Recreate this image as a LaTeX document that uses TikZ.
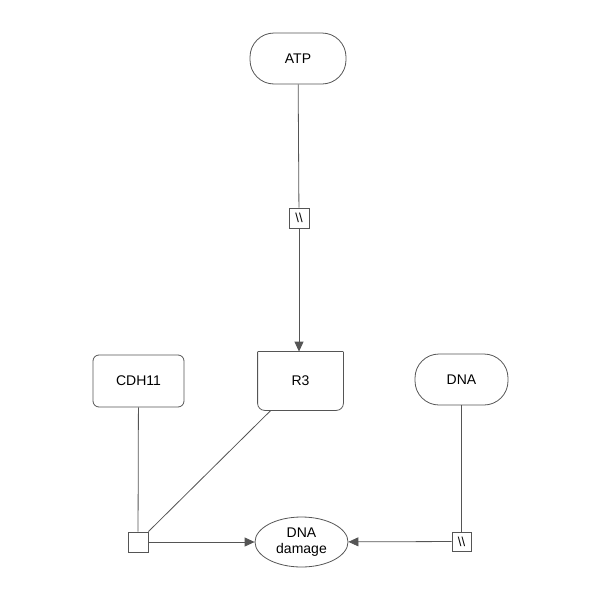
\documentclass[tikz,border=0pt]{standalone}
\usepackage{fontspec}
\setmainfont{Liberation Sans}
\usepackage{tikz}
\usetikzlibrary{arrows.meta, shapes.geometric}

\definecolor{edgegray}{HTML}{555555}

\tikzset{
  entity/.style={minimum width=91pt, minimum height=52pt, inner sep=0pt, align=center, font=\fontsize{14}{16}\selectfont},
  chemical/.style={entity, draw=edgegray, rounded corners=24pt, minimum width=96pt, minimum height=51pt},
  protein/.style={entity, draw=edgegray, rounded corners=6pt},
  feature/.style={entity, minimum width=85pt, minimum height=58pt},
  outcome/.style={entity, draw=edgegray, ellipse, minimum width=93pt, minimum height=50pt},
  procbox/.style={draw=edgegray, fill=white, minimum size=20pt, inner sep=0pt, font=\fontsize{13}{13}\selectfont},
  link/.style={draw=edgegray, line width=0.8pt},
  produce/.style={link, -{Triangle[length=10pt, width=9pt]}},
}

\begin{document}
\begin{tikzpicture}[x=1pt, y=-1pt, line width=0.8pt]

\useasboundingbox (0, 0) rectangle (600, 600);

% draw entities
\node[chemical] (atp) at (298, 58.5) {ATP};
\node[protein] (cdh) at (138.5, 381) {CDH11};
\node[feature] (r3) at (300.5, 381) {R3};
\node[chemical, minimum width=93pt] (dna) at (461.5, 379.5) {DNA};
\node[outcome] (dmg) at (301.5, 542) {DNA\\damage};

% draw R3 outline (square top, rounded bottom)
\draw[edgegray, rounded corners=7pt] (r3.north west) -- (r3.south west) -- (r3.south east) -- (r3.north east);
\draw[edgegray] (r3.north west) -- (r3.north east);

% draw process boxes
\node[procbox] (p1) at (299, 218) {\textbackslash\textbackslash};
\node[procbox] (p2) at (138, 542) {};
\node[procbox, minimum size=19pt] (p3) at (461.5, 541.5) {\textbackslash\textbackslash};

% draw ATP to R3
\draw[link] (atp) -- (p1);
\draw[produce] (p1) -- (r3.north -| p1);

% draw CDH11 and R3 to DNA damage
\draw[link] (cdh) -- (p2);
\draw[link] (r3) -- (p2.north east);
\draw[produce] (p2) -- (dmg);

% draw DNA to DNA damage
\draw[link] (dna) -- (p3);
\draw[produce] (p3) -- (dmg);

\end{tikzpicture}
\end{document}
